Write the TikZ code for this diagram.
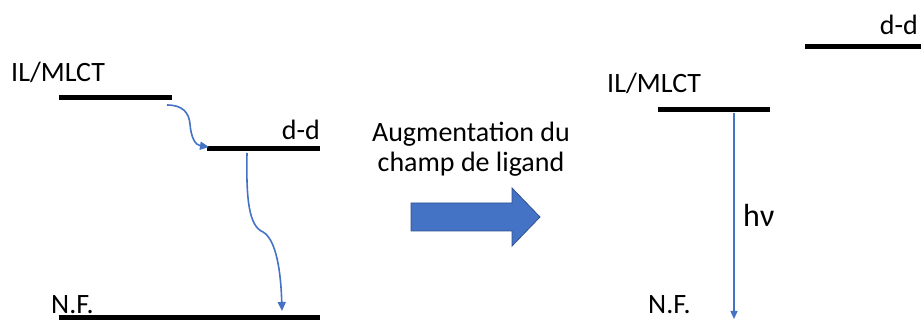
\documentclass[tikz,border=0pt]{standalone}
\usepackage{fontspec}
\setmainfont{Carlito}
\usepackage{xcolor}
\usetikzlibrary{arrows.meta}
\definecolor{officeblue}{HTML}{4472C4}
\definecolor{officeedge}{HTML}{2F528F}

\begin{document}
\begin{tikzpicture}[x=1pt,y=-1pt,
  every node/.style={font=\fontsize{28}{30}\selectfont,inner sep=0pt},
  level/.style={line width=5pt},
  label/.style={anchor=base west},
  relax/.style={officeblue,line width=1.6pt,
                -{Triangle[length=9pt,width=8pt]}},
  emit/.style={officeblue,line width=1.4pt,
               -{Triangle[length=8pt,width=7pt]}},
  bigarrow/.style={fill=officeblue,draw=officeedge,line width=0.8pt}]
\useasboundingbox (0,0) rectangle (921,320);
% left: weak field
\begin{scope}
  \node[label] (lct) at (11,82) {IL/MLCT};
  \node[anchor=base east] (ldd) at (320,140) {d-d};
  \node[label] (lnf) at (51,313) {N.F.};
  \coordinate (lct1) at (59,98);  \coordinate (lct2) at (172,98);
  \coordinate (ldd1) at (207,149); \coordinate (ldd2) at (320,149);
  \coordinate (lnf1) at (59,318); \coordinate (lnf2) at (320,318);
  \draw[level] (lct1) -- (lct2);
  \draw[level] (ldd1) -- (ldd2);
  \draw[level] (lnf1) -- (lnf2);
  \coordinate (s1) at (167,105); \coordinate (e1) at (209,147);
  \coordinate (s2) at (247,153); \coordinate (e2) at (282,311);
  \draw[relax] (s1) .. controls (183,105) and (189,113) .. (190,124)
      .. controls (191,137) and (195,145) .. (e1);
  \draw[relax] (s2) .. controls (246,200) and (249,226) .. (263,232)
      .. controls (277,240) and (281,275) .. (e2);
\end{scope}
% middle
\node[anchor=base] (aug) at (471,142) {Augmentation du};
\node[anchor=base] (champ) at (471,172) {champ de ligand};
\coordinate (a1) at (411,203); \coordinate (a2) at (512,203);
\coordinate (a3) at (512,188); \coordinate (a4) at (540,217);
\coordinate (a5) at (512,246); \coordinate (a6) at (512,231);
\coordinate (a7) at (411,231);
\draw[bigarrow] (a1) -- (a2) -- (a3) -- (a4) -- (a5) -- (a6) -- (a7) -- cycle;
% right: strong field
\begin{scope}
  \node[label] (rct) at (607,93) {IL/MLCT};
  \node[anchor=base east] (rdd) at (918,35) {d-d};
  \node[label] (rnf) at (648,313) {N.F.};
  \node[label,font=\fontsize{32}{34}\selectfont] (hnu) at (743,227) {hν};
  \coordinate (rct1) at (658,110); \coordinate (rct2) at (770,110);
  \coordinate (rdd1) at (805,47);  \coordinate (rdd2) at (925,47);
  \draw[level] (rct1) -- (rct2);
  \draw[level] (rdd1) -- (rdd2);
  \coordinate (s3) at (734,113); \coordinate (e3) at (734,319);
  \draw[emit] (s3) -- (e3);
\end{scope}
\end{tikzpicture}
\end{document}
